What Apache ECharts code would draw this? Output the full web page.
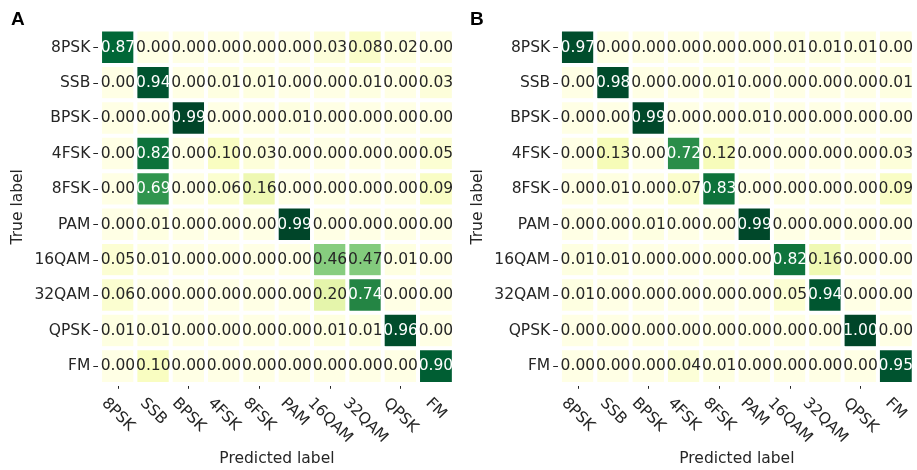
<!DOCTYPE html>
<html>
<head>
<meta charset="utf-8">
<script src="https://cdn.jsdelivr.net/npm/echarts@6/dist/echarts.min.js"></script>
<style>
  html, body { margin: 0; padding: 0; background: #fff; }
  #chart { width: 917px; height: 470px; }
</style>
</head>
<body>
<div id="chart"></div>
<script>
// Modulation classes (rows = true label, columns = predicted label)
const classes = ['8PSK', 'SSB', 'BPSK', '4FSK', '8FSK', 'PAM', '16QAM', '32QAM', 'QPSK', 'FM'];

// Confusion matrix, panel A
const matrixA = [
  [0.87, 0.00, 0.00, 0.00, 0.00, 0.00, 0.03, 0.08, 0.02, 0.00],
  [0.00, 0.94, 0.00, 0.01, 0.01, 0.00, 0.00, 0.01, 0.00, 0.03],
  [0.00, 0.00, 0.99, 0.00, 0.00, 0.01, 0.00, 0.00, 0.00, 0.00],
  [0.00, 0.82, 0.00, 0.10, 0.03, 0.00, 0.00, 0.00, 0.00, 0.05],
  [0.00, 0.69, 0.00, 0.06, 0.16, 0.00, 0.00, 0.00, 0.00, 0.09],
  [0.00, 0.01, 0.00, 0.00, 0.00, 0.99, 0.00, 0.00, 0.00, 0.00],
  [0.05, 0.01, 0.00, 0.00, 0.00, 0.00, 0.46, 0.47, 0.01, 0.00],
  [0.06, 0.00, 0.00, 0.00, 0.00, 0.00, 0.20, 0.74, 0.00, 0.00],
  [0.01, 0.01, 0.00, 0.00, 0.00, 0.00, 0.01, 0.01, 0.96, 0.00],
  [0.00, 0.10, 0.00, 0.00, 0.00, 0.00, 0.00, 0.00, 0.00, 0.90]
];

// Confusion matrix, panel B
const matrixB = [
  [0.97, 0.00, 0.00, 0.00, 0.00, 0.00, 0.01, 0.01, 0.01, 0.00],
  [0.00, 0.98, 0.00, 0.00, 0.01, 0.00, 0.00, 0.00, 0.00, 0.01],
  [0.00, 0.00, 0.99, 0.00, 0.00, 0.01, 0.00, 0.00, 0.00, 0.00],
  [0.00, 0.13, 0.00, 0.72, 0.12, 0.00, 0.00, 0.00, 0.00, 0.03],
  [0.00, 0.01, 0.00, 0.07, 0.83, 0.00, 0.00, 0.00, 0.00, 0.09],
  [0.00, 0.00, 0.01, 0.00, 0.00, 0.99, 0.00, 0.00, 0.00, 0.00],
  [0.01, 0.01, 0.00, 0.00, 0.00, 0.00, 0.82, 0.16, 0.00, 0.00],
  [0.01, 0.00, 0.00, 0.00, 0.00, 0.00, 0.05, 0.94, 0.00, 0.00],
  [0.00, 0.00, 0.00, 0.00, 0.00, 0.00, 0.00, 0.00, 1.00, 0.00],
  [0.00, 0.00, 0.00, 0.04, 0.01, 0.00, 0.00, 0.00, 0.00, 0.95]
];

const panelLetters = ['A', 'B'];
const xAxisTitle = 'Predicted label';
const yAxisTitle = 'True label';

// YlGn sequential palette
const ylGn = ['#ffffe5', '#f7fcb9', '#d9f0a3', '#addd8e', '#78c679', '#41ab5d', '#238443', '#006837', '#004529'];

const FONT = '"DejaVu Sans", Verdana, sans-serif';
const FS = 15.5;
const DARK = '#262626';

function cells(matrix) {
  const out = [];
  matrix.forEach((row, r) => row.forEach((v, c) => {
    out.push({ value: [c, r, v], label: { color: v > 0.6 ? '#ffffff' : DARK } });
  }));
  return out;
}

const GRID_TOP = 29.8, GRID_H = 354, GRID_W = 353.3;
const gridLefts = [100.3, 560.2];
const grids = gridLefts.map(l => ({
  left: l, top: GRID_TOP, width: GRID_W, height: GRID_H,
  outerBoundsMode: 'none', containLabel: false
}));

const xAxes = grids.map((g, i) => ({
  type: 'category', gridIndex: i,
  data: classes,
  axisLine: { show: false },
  axisTick: { show: true, alignWithLabel: true, length: 5, lineStyle: { color: DARK, width: 1 } },
  // tick labels are drawn as rotated graphic text below, centred under each tick
  axisLabel: { show: false },
  splitLine: { show: false },
  name: xAxisTitle, nameLocation: 'middle', nameGap: 67.5, nameMoveOverlap: false,
  nameTextStyle: { fontSize: FS, fontFamily: FONT, color: DARK }
}));

const yAxes = grids.map((g, i) => ({
  type: 'category', gridIndex: i, inverse: true, offset: 2,
  data: classes,
  axisLine: { show: false },
  axisTick: { show: true, alignWithLabel: true, length: 5, lineStyle: { color: DARK, width: 1 } },
  axisLabel: { interval: 0, margin: 8, fontSize: FS, fontFamily: FONT, color: DARK },
  splitLine: { show: false },
  name: yAxisTitle, nameLocation: 'middle', nameGap: 72, nameMoveOverlap: false,
  nameTextStyle: { fontSize: FS, fontFamily: FONT, color: DARK }
}));

const matrices = [matrixA, matrixB];

const option = {
  backgroundColor: '#ffffff',
  animation: false,
  title: panelLetters.map((t, i) => ({
    text: t, left: i === 0 ? 6 : 465, top: 5,
    textStyle: { fontSize: 19, fontWeight: 'bold', fontFamily: '"Liberation Sans", Arial, sans-serif', color: '#000' }
  })),
  grid: grids,
  xAxis: xAxes,
  yAxis: yAxes,
  visualMap: matrices.map((m, i) => ({
    show: false, seriesIndex: i, min: 0,
    max: Math.max(...m.flat()),
    inRange: { color: ylGn }
  })),
  series: matrices.map((m, i) => ({
    type: 'heatmap', xAxisIndex: i, yAxisIndex: i,
    data: cells(m),
    itemStyle: { borderColor: '#ffffff', borderWidth: 4 },
    label: {
      show: true, fontSize: FS, fontFamily: FONT,
      formatter: p => p.value[2].toFixed(2)
    },
    emphasis: { disabled: true }
  }))
};

const chart = echarts.init(document.getElementById('chart'), null, { renderer: 'canvas' });
chart.setOption(option);

// Rotated x tick labels: the rotated text box hangs from a common top line,
// centred horizontally on its tick.
const ctx = document.createElement('canvas').getContext('2d');
ctx.font = FS + 'px "DejaVu Sans"';
const labelTop = GRID_TOP + GRID_H + 11.5;
const s = Math.SQRT1_2;
const tickLabels = [];
matrices.forEach((m, i) => {
  classes.forEach(name => {
    const x = chart.convertToPixel({ xAxisIndex: i }, name);
    const w = ctx.measureText(name).width;
    tickLabels.push({
      type: 'text', silent: true,
      x: x, y: labelTop + 0.5 * s * (w + FS),
      rotation: -Math.PI / 4,
      style: {
        text: name, fontSize: FS, fontFamily: FONT, fill: DARK,
        align: 'center', verticalAlign: 'middle'
      }
    });
  });
});
chart.setOption({ graphic: tickLabels });
</script>
</body>
</html>
